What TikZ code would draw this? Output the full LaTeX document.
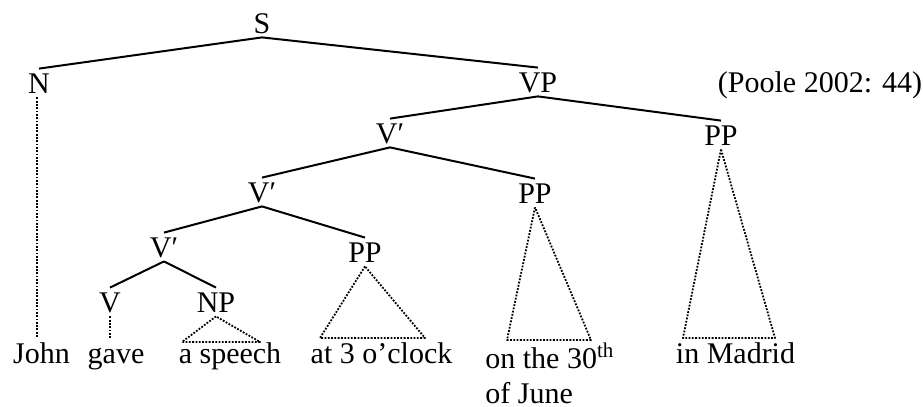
\documentclass[tikz,border=0pt]{standalone}
\usepackage{fontspec}
\setmainfont{Liberation Serif}
\usetikzlibrary{calc}
\begin{document}
\begin{tikzpicture}[x=0.5pt,y=-0.5pt,
  font=\fontsize{15}{17.5}\selectfont,
  cat/.style={anchor=base,text height=10pt,text depth=0pt,inner xsep=1pt,inner ysep=2pt},
  word/.style={anchor=base,inner sep=0pt},
  branch/.style={line width=1pt},
  roof/.style={line width=0.9pt,dash pattern=on 0.9pt off 0.75pt,line join=round}]
\useasboundingbox (0,0) rectangle (923,407);

% category labels (positioned by baseline)
\node[cat] (S)   at (262,33)  {S};
\node[cat] (N)   at (39,93)   {N};
\node[cat] (VP)  at (538,92)  {VP};
\node[cat] (Vb1) at (390,143) {V′};
\node[cat] (PP1) at (721,145) {PP};
\node[cat] (Vb2) at (262,202) {V′};
\node[cat] (PP2) at (535,203) {PP};
\node[cat] (Vb3) at (164,257) {V′};
\node[cat] (PP3) at (365,262) {PP};
\node[cat] (V)   at (110,312) {V};
\node[cat] (NP)  at (216,312) {NP};

\node[word] (src) at (820,92) {(Poole 2002: 44)};

% terminal strings
\node[word] (john)   at (41.5,363) {John};
\node[word] (gave)   at (116,363)  {gave};
\node[word] (speech) at (230,363)  {a speech};
\node[word] (clock)  at (381.5,363) {at 3 o’clock};
\node[word,anchor=base west] (june) at (485,368)
  {\vtop{\baselineskip=17.5pt\hbox{on the 30\textsuperscript{th}}\hbox{of June}}};
\node[word] (madrid) at (735.5,363) {in Madrid};

% branches
\draw[branch] (S.south) -- (N.north);
\draw[branch] (S.south) -- (VP.north);
\draw[branch] (VP.south) -- (Vb1.north);
\draw[branch] (VP.south) -- (PP1.north);
\draw[branch] (Vb1.south) -- (Vb2.north);
\draw[branch] (Vb1.south) -- (PP2.north);
\draw[branch] (Vb2.south) -- (Vb3.north);
\draw[branch] (Vb2.south) -- (PP3.north);
\draw[branch] (Vb3.south) -- (V.north);
\draw[branch] (Vb3.south) -- (NP.north);

% unary dotted links to the words
\coordinate (johnTop) at (37,338);
\coordinate (gaveTop) at (110,338);
\draw[roof] (N.south -| johnTop) -- (johnTop);
\draw[roof] (V.south) -- (gaveTop);

% roofs over unanalysed phrases
\coordinate (npL) at (182,342);  \coordinate (npR) at (260,342);
\coordinate (p3L) at (320,338);  \coordinate (p3R) at (425,338);
\coordinate (p2L) at (507,340);  \coordinate (p2R) at (591,340);
\coordinate (p1L) at (683,338);  \coordinate (p1R) at (775,338);
\draw[roof] (NP.south)  -- (npL) -- (npR) -- cycle;
\draw[roof] (PP3.south) -- (p3L) -- (p3R) -- cycle;
\draw[roof] (PP2.south) -- (p2L) -- (p2R) -- cycle;
\draw[roof] (PP1.south) -- (p1L) -- (p1R) -- cycle;
\end{tikzpicture}
\end{document}
